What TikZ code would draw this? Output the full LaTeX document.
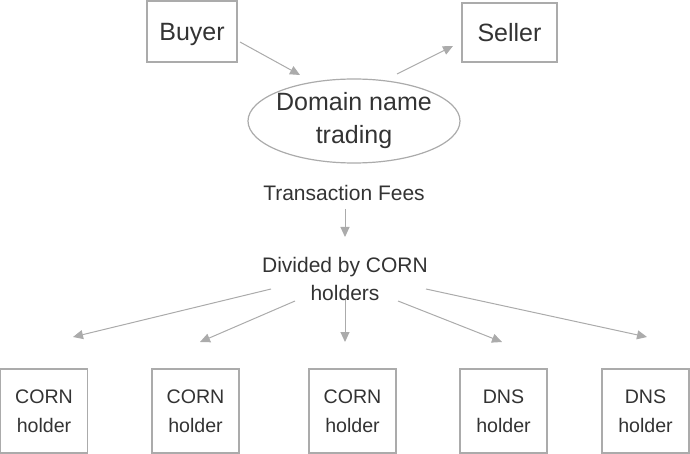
\documentclass[tikz,border=0pt]{standalone}
\usepackage{fontspec}
\setmainfont{Liberation Sans}
\usetikzlibrary{arrows.meta,shapes.geometric}
\definecolor{linegray}{HTML}{ABABAB}
\definecolor{textgray}{HTML}{333333}
\begin{document}
\begin{tikzpicture}[x=0.5pt,y=-0.5pt,
  every node/.style={text=textgray,align=center,inner sep=0pt},
  party/.style={draw=linegray,line width=0.6pt,font=\fontsize{12.5}{16.5}\selectfont},
  holder/.style={draw=linegray,line width=0.6pt,minimum width=43.5pt,minimum height=42pt,font=\fontsize{9.8}{14.5}\selectfont},
  flowtext/.style={font=\fontsize{10.5}{14}\selectfont},
  arr/.style={draw=linegray,line width=0.5pt,-{Triangle[length=5pt,width=4.5pt]}}]
  \useasboundingbox (0,0) rectangle (690,454);
  % top: trade between buyer and seller
  \node[party,text depth=0pt,minimum width=45pt,minimum height=30.5pt] (buyer) at (192,31.5) {Buyer};
  \node[party,minimum width=47.5pt,minimum height=29.5pt] (seller) at (509.5,32.5) {Seller};
  \node[party,ellipse,inner xsep=-2.5pt,minimum width=106pt,minimum height=42pt] (trade) at (354,121) {Domain name\\trading};
  % fees
  \node[flowtext] (fees) at (344,193) {Transaction Fees};
  \node[flowtext] (divide) at (345,279) {Divided by CORN\\holders};
  % holders
  \node[holder] (h1) at (44,411) {CORN\\holder};
  \node[holder] (h2) at (195.5,411) {CORN\\holder};
  \node[holder] (h3) at (352.5,411) {CORN\\holder};
  \node[holder] (h4) at (503.5,411) {DNS\\holder};
  \node[holder] (h5) at (645.5,411) {DNS\\holder};
  % arrows
  \draw[arr] ([shift={(48,10.5)}]buyer.center) -- ([shift={(-54,-46)}]trade.center);
  \draw[arr] ([shift={(43,-47)}]trade.center) -- ([shift={(-56.5,13.5)}]seller.center);
  \draw[arr] ([shift={(1,16)}]fees.center) -- ([shift={(0,-42)}]divide.center);
  \draw[arr] ([shift={(-74,10)}]divide.center) -- ([shift={(29,-74)}]h1.center);
  \draw[arr] ([shift={(-50,22)}]divide.center) -- ([shift={(4.5,-69)}]h2.center);
  \draw[arr] ([shift={(0,21)}]divide.center) -- ([shift={(-7.5,-69)}]h3.center);
  \draw[arr] ([shift={(53,22)}]divide.center) -- ([shift={(-1.5,-69)}]h4.center);
  \draw[arr] ([shift={(81,10)}]divide.center) -- ([shift={(1.5,-74)}]h5.center);
\end{tikzpicture}
\end{document}
